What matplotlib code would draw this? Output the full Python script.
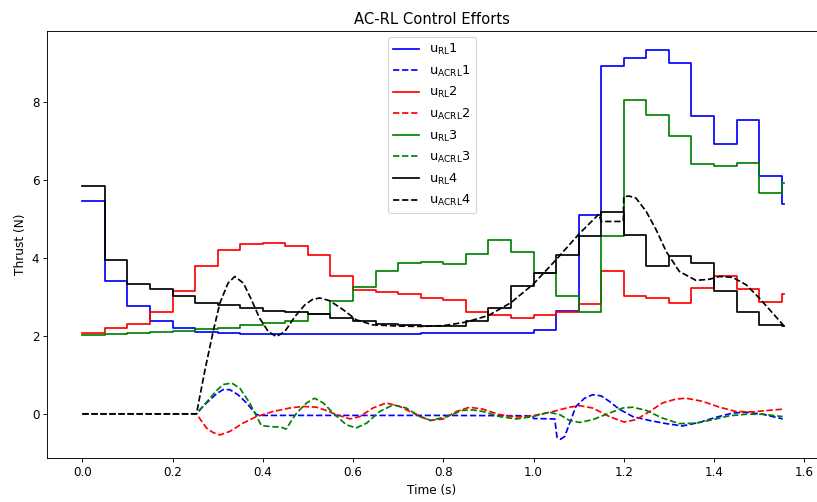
import numpy as np
import matplotlib
matplotlib.use("Agg")
import matplotlib.pyplot as plt

# ---- step (RL) control values, one per 0.05 s interval ----
step_dt = 0.05
t_end = 1.555
u_rl1 = [5.46, 3.41, 2.77, 2.38, 2.21, 2.11, 2.07, 2.05, 2.05, 2.05, 2.05, 2.05,
         2.05, 2.05, 2.05, 2.06, 2.06, 2.06, 2.06, 2.06, 2.14, 2.64, 5.10, 8.92,
         9.11, 9.32, 9.00, 7.63, 6.91, 7.53, 6.10, 5.37]
u_rl2 = [2.07, 2.20, 2.31, 2.61, 3.14, 3.80, 4.20, 4.35, 4.39, 4.30, 4.08, 3.52,
         3.17, 3.13, 3.08, 2.98, 2.91, 2.62, 2.53, 2.45, 2.54, 2.61, 2.82, 3.67,
         3.01, 2.98, 2.84, 3.22, 3.54, 3.20, 2.86, 3.07]
u_rl3 = [2.03, 2.05, 2.06, 2.09, 2.13, 2.17, 2.20, 2.28, 2.34, 2.39, 2.55, 2.88,
         3.26, 3.65, 3.86, 3.88, 3.84, 4.09, 4.46, 4.16, 3.60, 3.01, 2.62, 4.56,
         8.03, 7.66, 7.13, 6.40, 6.34, 6.44, 5.67, 5.91]
u_rl4 = [5.85, 3.95, 3.33, 3.19, 3.03, 2.85, 2.78, 2.70, 2.64, 2.61, 2.57, 2.46,
         2.37, 2.30, 2.27, 2.26, 2.26, 2.38, 2.70, 3.28, 3.62, 4.07, 4.57, 5.18,
         4.59, 3.79, 4.05, 3.87, 3.15, 2.60, 2.28, 2.24]

# ---- AC-RL control values ----
t_acrl1 = [0, 0.25, 0.253, 0.268, 0.283, 0.298, 0.312, 0.327, 0.345, 0.364, 0.386,
           0.40, 0.6, 0.8, 0.998, 1.0, 1.047, 1.052, 1.06, 1.069, 1.08, 1.094,
           1.113, 1.131, 1.15, 1.168, 1.19, 1.22, 1.257, 1.294, 1.33, 1.367,
           1.404, 1.441, 1.471, 1.508, 1.552]
u_acrl1 = [0, 0, 0, 0.2, 0.36, 0.52, 0.62, 0.62, 0.49, 0.28, -0.02,
           -0.04, -0.04, -0.04, -0.05, -0.12, -0.13, -0.6, -0.65, -0.58, -0.24, 0.19,
           0.40, 0.49, 0.46, 0.32, 0.12, -0.07, -0.17, -0.25, -0.31, -0.22,
           -0.09, 0.02, 0.04, -0.01, -0.13]

t_acrl2 = [0, 0.25, 0.253, 0.275, 0.29, 0.305, 0.327, 0.356, 0.386, 0.423, 0.46,
           0.489, 0.519, 0.54, 0.563, 0.593, 0.615, 0.644, 0.674, 0.703, 0.733,
           0.77, 0.8, 0.829, 0.858, 0.888, 0.925, 0.962, 0.998, 1.043, 1.08,
           1.102, 1.131, 1.168, 1.201, 1.227, 1.257, 1.286, 1.316, 1.338, 1.375,
           1.412, 1.449, 1.486, 1.522, 1.552]
u_acrl2 = [0, 0, 0, -0.36, -0.48, -0.54, -0.45, -0.24, -0.07, 0.06, 0.15,
           0.19, 0.17, 0.09, -0.02, -0.13, -0.07, 0.15, 0.28, 0.19, 0.02,
           -0.17, -0.13, 0.06, 0.17, 0.12, -0.02, -0.08, -0.05, 0.06, 0.17,
           0.21, 0.15, -0.07, -0.21, -0.15, 0.06, 0.28, 0.38, 0.40, 0.32,
           0.17, 0.06, 0.05, 0.09, 0.12]

t_acrl3 = [0, 0.25, 0.253, 0.268, 0.283, 0.298, 0.312, 0.331, 0.349, 0.371, 0.39,
           0.397, 0.42, 0.44, 0.452, 0.462, 0.475, 0.497, 0.515, 0.534, 0.556,
           0.585, 0.607, 0.63, 0.659, 0.689, 0.718, 0.748, 0.773, 0.807, 0.843,
           0.866, 0.888, 0.925, 0.962, 0.998, 1.035, 1.058, 1.08, 1.102, 1.131,
           1.168, 1.198, 1.22, 1.249, 1.286, 1.323, 1.36, 1.397, 1.434, 1.471,
           1.508, 1.552]
u_acrl3 = [0, 0, 0, 0.2, 0.40, 0.6, 0.75, 0.79, 0.66, 0.28, -0.15,
           -0.30, -0.33, -0.34, -0.39, -0.2, 0.02, 0.28, 0.40, 0.28, 0.02,
           -0.28, -0.36, -0.24, 0.06, 0.23, 0.15, -0.07, -0.17, -0.07, 0.09,
           0.10, 0.06, -0.07, -0.13, -0.07, 0.04, -0.02, -0.17, -0.22, -0.15,
           0.02, 0.15, 0.17, 0.09, -0.11, -0.25, -0.24, -0.15, -0.05, -0.01,
           -0.01, -0.07]

t_acrl4 = [0, 0.25, 0.253, 0.272, 0.29, 0.305, 0.323, 0.338, 0.357, 0.375, 0.393,
           0.412, 0.43, 0.449, 0.471, 0.493, 0.51, 0.526, 0.548, 0.578, 0.607,
           0.644, 0.7, 0.75, 0.8, 0.85, 0.9, 0.95, 1.0, 1.05, 1.1, 1.145, 1.15,
           1.199, 1.2, 1.212, 1.227, 1.25, 1.272, 1.294, 1.323, 1.36, 1.39,
           1.412, 1.441, 1.471, 1.5, 1.53, 1.556]
u_acrl4 = [0, 0, 0, 1.13, 2.11, 2.84, 3.35, 3.52, 3.35, 2.92, 2.45,
           2.11, 1.98, 2.11, 2.49, 2.79, 2.93, 2.97, 2.90, 2.67, 2.41,
           2.28, 2.25, 2.24, 2.26, 2.35, 2.52, 2.85, 3.33, 3.95, 4.6, 5.12, 4.93,
           4.93, 5.57, 5.58, 5.53, 5.18, 4.71, 4.16, 3.65, 3.42, 3.45,
           3.52, 3.50, 3.31, 2.97, 2.58, 2.24]

colors = ["blue", "red", "green", "black"]
labels_rl = [r"u$_{\mathrm{RL}}$1", r"u$_{\mathrm{RL}}$2", r"u$_{\mathrm{RL}}$3", r"u$_{\mathrm{RL}}$4"]
labels_acrl = [r"u$_{\mathrm{ACRL}}$1", r"u$_{\mathrm{ACRL}}$2", r"u$_{\mathrm{ACRL}}$3", r"u$_{\mathrm{ACRL}}$4"]

fig = plt.figure(figsize=(9.9635, 6.1220), dpi=82)
ax = fig.add_axes([0.0579, 0.0876, 0.942, 0.8512])

n = len(u_rl1)
t_step = list(np.arange(n) * step_dt) + [t_end]

rl = [u_rl1, u_rl2, u_rl3, u_rl4]
acrl = [(t_acrl1, u_acrl1), (t_acrl2, u_acrl2), (t_acrl3, u_acrl3), (t_acrl4, u_acrl4)]

for i in range(4):
    ax.step(t_step, rl[i] + [rl[i][-1]], where="post", color=colors[i],
            lw=1.5, label=labels_rl[i])
    ax.plot(acrl[i][0], acrl[i][1], "--", color=colors[i], lw=1.5,
            label=labels_acrl[i])

ax.set_xlim(-0.0775, 1.628)
ax.set_ylim(-1.132, 9.818)
ax.set_xticks([0.0, 0.2, 0.4, 0.6, 0.8, 1.0, 1.2, 1.4, 1.6])
ax.set_yticks([0, 2, 4, 6, 8])
ax.tick_params(labelsize=10.4)
ax.set_xlabel("Time (s)", fontsize=10.6)
ax.set_ylabel("Thrust (N)", fontsize=10.6)
ax.set_title("AC-RL Control Efforts", fontsize=13)
ax.legend(loc="upper center", fontsize=11.3)

fig.savefig("out.png", dpi=82)
